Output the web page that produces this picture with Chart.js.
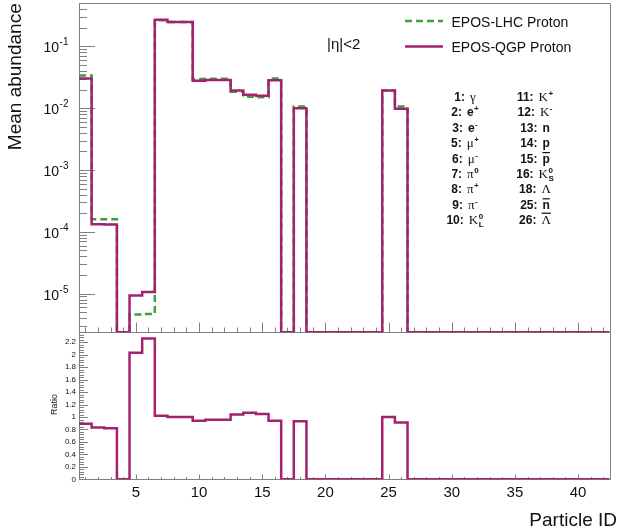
<!DOCTYPE html>
<html>
<head>
<meta charset="utf-8">
<script src="https://cdn.jsdelivr.net/npm/chart.js@4.4.1/dist/chart.umd.min.js"></script>
<style>
  html, body { margin: 0; padding: 0; background: #ffffff; }
  #wrap { position: relative; width: 618px; height: 530px; }
  #wrap canvas { position: absolute; left: 0; top: 0; }
</style>
</head>
<body>
<div id="wrap">
  <canvas id="abundance" width="618" height="530"></canvas>
  <canvas id="ratio" width="618" height="530"></canvas>
</div>
<script>
// ---- data -------------------------------------------------------------
// Particle ID bins, one unit wide and centred on the integer ID
const particleIds = [1, 2, 3, 4, 5, 6, 7, 8, 9, 10, 11, 12, 13, 14, 15, 16, 17, 18, 19, 20, 21,
                     22, 23, 24, 25, 26, 27, 28, 29, 30, 31, 32, 33, 34, 35, 36, 37, 38, 39, 40, 41, 42];

// mean abundance per event, |eta| < 2
const eposLhcProton = [0.0339, 1.6e-4, 1.6e-4, 0, 4.6e-6, 4.69e-6, 0.267, 0.250, 0.250, 0.0297,
                       0.0300, 0.0300, 0.0186, 0.0154, 0.0151, 0.0303, 0, 0.0107, 0, 0,
                       0, 0, 0, 0, 0.0194, 0.0107, 0, 0, 0, 0,
                       0, 0, 0, 0, 0, 0, 0, 0, 0, 0, 0, 0];
const eposQgpProton = [0.0302, 1.33e-4, 1.31e-4, 0, 9.35e-6, 1.06e-5, 0.272, 0.249, 0.249, 0.0279,
                       0.0286, 0.0286, 0.0194, 0.0165, 0.0159, 0.0285, 0, 0.0100, 0, 0,
                       0, 0, 0, 0, 0.0194, 0.0098, 0, 0, 0, 0,
                       0, 0, 0, 0, 0, 0, 0, 0, 0, 0, 0, 0];
// EPOS-QGP / EPOS-LHC
const ratioQgpLhc = [0.89, 0.83, 0.82, 0, 2.03, 2.26, 1.02, 1.00, 1.00, 0.94,
                     0.955, 0.955, 1.04, 1.07, 1.05, 0.94, 0, 0.93, 0, 0,
                     0, 0, 0, 0, 1.00, 0.91, 0, 0, 0, 0,
                     0, 0, 0, 0, 0, 0, 0, 0, 0, 0, 0, 0];

// ---- labels -----------------------------------------------------------
const seriesNames = ['EPOS-LHC Proton', 'EPOS-QGP Proton'];
const xTickLabels = [5, 10, 15, 20, 25, 30, 35, 40];
const logTickExponents = [-5, -4, -3, -2, -1];
const ratioTickLabels = ['0', '0.2', '0.4', '0.6', '0.8', '1', '1.2', '1.4', '1.6', '1.8', '2', '2.2'];
const xTitle = 'Particle ID';
const yTitle = 'Mean abundance';
const ratioTitle = 'Ratio';
const etaCut = '|\u03b7|<2';

// particle code table: [code, symbol, superscript, subscript, overline, serif symbol]
const codeTableLeft = [
  ['1:', '\u03b3', '', '', false, true],
  ['2:', 'e', '+', '', false, false],
  ['3:', 'e', '-', '', false, false],
  ['5:', '\u03bc', '+', '', false, true],
  ['6:', '\u03bc', '-', '', false, true],
  ['7:', '\u03c0', '0', '', false, true],
  ['8:', '\u03c0', '+', '', false, true],
  ['9:', '\u03c0', '-', '', false, true],
  ['10:', 'K', '0', 'L', false, true]
];
const codeTableRight = [
  ['11:', 'K', '+', '', false, true],
  ['12:', 'K', '-', '', false, true],
  ['13:', 'n', '', '', false, false],
  ['14:', 'p', '', '', false, false],
  ['15:', 'p', '', '', true, false],
  ['16:', 'K', '0', 'S', false, true],
  ['18:', '\u039b', '', '', false, true],
  ['25:', 'n', '', '', true, false],
  ['26:', '\u039b', '', '', true, true]
];

// ---- style ------------------------------------------------------------
const QGP_COLOR = '#a3216f';
const LHC_COLOR = '#3d9f3d';
const AXIS_COLOR = '#808080';
const TEXT_COLOR = '#111111';
const SANS = '"Liberation Sans", Arial, sans-serif';
const SERIF = '"Liberation Serif", "Times New Roman", serif';

const W = 618, H = 530;
const PLOT_LEFT = 79, PLOT_RIGHT = 609.7;
const TOP_PAD_TOP = 3.3, SPLIT_Y = 332.3, RATIO_BOTTOM = 479.3;
const X_MIN = 0.5, X_MAX = 42.5;
const LOG_MIN = 2.37e-6, LOG_MAX = 0.5;
const RATIO_MAX = 2.36;

// histogram outline: one point on each bin's low edge plus the final high edge
function histogramPoints(values, floor) {
  const pts = particleIds.map((id, i) => ({ x: id - 0.5, y: values[i] > 0 ? values[i] : floor }));
  const last = pts[pts.length - 1];
  pts.push({ x: particleIds[particleIds.length - 1] + 0.5, y: last.y });
  return pts;
}

function crisp(v) { return Math.round(v) + 0.5; }

function drawXTicks(ctx, scale, yAxis, majorLen, minorLen) {
  for (const id of particleIds) {
    const px = crisp(scale.getPixelForValue(id));
    const len = xTickLabels.includes(id) ? majorLen : minorLen;
    ctx.moveTo(px, yAxis);
    ctx.lineTo(px, yAxis - len);
  }
}

function drawCodeEntry(ctx, entry, cx, baseline) {
  const [code, sym, sup, sub, over, serif] = entry;
  const codeFont = 'bold 12px ' + SANS;
  const symFont = serif ? '13px ' + SERIF : 'bold 12px ' + SANS;
  const smallFont = 'bold 8px ' + SANS;
  ctx.font = codeFont; const wCode = ctx.measureText(code).width;
  ctx.font = symFont; const wSym = ctx.measureText(sym).width;
  ctx.font = smallFont;
  const wSmall = Math.max(sup ? ctx.measureText(sup).width : 0, sub ? ctx.measureText(sub).width : 0);
  const gap = 5;
  const total = wCode + gap + wSym + (wSmall ? wSmall + 0.5 : 0);
  let x = cx - total / 2;
  ctx.textAlign = 'left';
  ctx.textBaseline = 'alphabetic';
  ctx.font = codeFont; ctx.fillText(code, x, baseline);
  x += wCode + gap;
  ctx.font = symFont; ctx.fillText(sym, x, baseline);
  if (over) {
    ctx.save();
    ctx.strokeStyle = TEXT_COLOR; ctx.lineWidth = 1.2;
    ctx.beginPath();
    const oy = baseline - (sym === 'p' || sym === 'n' ? 10 : 11);
    ctx.moveTo(x, oy); ctx.lineTo(x + wSym, oy);
    ctx.stroke();
    ctx.restore();
  }
  x += wSym + 0.5;
  ctx.font = smallFont;
  if (sup) ctx.fillText(sup, x, baseline - 5);
  if (sub) ctx.fillText(sub, x, baseline + 2.5);
}

// ---- upper panel: axes, labels, legend, particle table ----------------
const abundanceDecor = {
  id: 'abundanceDecor',
  beforeDatasetsDraw(chart) {
    const { ctx, chartArea: a, scales: { x, y } } = chart;
    ctx.save();
    ctx.strokeStyle = AXIS_COLOR;
    ctx.lineWidth = 1;
    ctx.beginPath();
    ctx.rect(crisp(a.left), crisp(a.top), Math.round(a.right - a.left), Math.round(a.bottom - a.top));
    drawXTicks(ctx, x, crisp(a.bottom), 10, 5);
    const lo = Math.floor(Math.log10(y.min)), hi = Math.floor(Math.log10(y.max));
    for (let d = lo; d <= hi; d++) {
      for (let k = 1; k <= 9; k++) {
        const v = k * Math.pow(10, d);
        if (v < y.min || v > y.max) continue;
        const py = crisp(y.getPixelForValue(v));
        ctx.moveTo(a.left, py);
        ctx.lineTo(a.left + (k === 1 ? 16 : 8), py);
      }
    }
    ctx.stroke();

    ctx.fillStyle = TEXT_COLOR;
    ctx.textBaseline = 'alphabetic';
    // decade labels 10^n
    for (const e of logTickExponents) {
      const py = y.getPixelForValue(Math.pow(10, e));
      ctx.font = '10px ' + SANS;
      ctx.textAlign = 'right';
      const supTxt = String(e);
      const wSup = ctx.measureText(supTxt).width;
      ctx.fillText(supTxt, 68.5, py - 1);
      ctx.font = '14px ' + SANS;
      ctx.fillText('10', 68 - wSup, py + 6);
    }

    // y title
    ctx.save();
    ctx.font = '19px ' + SANS;
    ctx.translate(21, a.top);
    ctx.rotate(-Math.PI / 2);
    ctx.textAlign = 'right';
    ctx.fillText(yTitle, 0, 0);
    ctx.restore();

    // eta cut
    ctx.font = '15px ' + SANS;
    ctx.textAlign = 'left';
    ctx.fillText(etaCut, 327, 49);

    // legend
    const legendRows = [
      { name: seriesNames[0], color: LHC_COLOR, dash: [7, 4], y: 21 },
      { name: seriesNames[1], color: QGP_COLOR, dash: [], y: 46.5 }
    ];
    for (const r of legendRows) {
      ctx.save();
      ctx.strokeStyle = r.color;
      ctx.lineWidth = 2.5;
      ctx.setLineDash(r.dash);
      ctx.beginPath();
      ctx.moveTo(405, r.y);
      ctx.lineTo(443, r.y);
      ctx.stroke();
      ctx.restore();
      ctx.font = '14px ' + SANS;
      ctx.textAlign = 'left';
      ctx.fillText(r.name, 451.5, r.y + 5.5);
    }

    // particle code table
    codeTableLeft.forEach((e, i) => drawCodeEntry(ctx, e, 465, 101 + i * 15.4));
    codeTableRight.forEach((e, i) => drawCodeEntry(ctx, e, 535, 101 + i * 15.4));
    ctx.restore();
  }
};

// ---- lower panel: axes and labels -------------------------------------
const ratioDecor = {
  id: 'ratioDecor',
  beforeDatasetsDraw(chart) {
    const { ctx, chartArea: a, scales: { x, y } } = chart;
    ctx.save();
    ctx.strokeStyle = AXIS_COLOR;
    ctx.lineWidth = 1;
    ctx.beginPath();
    const l = crisp(a.left), r = crisp(a.right), b = crisp(a.bottom), t = crisp(a.top);
    ctx.moveTo(l, t); ctx.lineTo(l, b); ctx.lineTo(r, b); ctx.lineTo(r, t);
    drawXTicks(ctx, x, b, 5, 2.5);
    for (let i = 0; i * 0.04 <= y.max + 1e-9; i++) {
      const v = i * 0.04;
      const py = crisp(y.getPixelForValue(v));
      ctx.moveTo(a.left, py);
      ctx.lineTo(a.left + (i % 5 === 0 ? 9 : 5), py);
    }
    ctx.stroke();

    ctx.fillStyle = TEXT_COLOR;
    ctx.font = '8px ' + SANS;
    ctx.textAlign = 'right';
    ctx.textBaseline = 'middle';
    for (const lab of ratioTickLabels) {
      ctx.fillText(lab, 76, y.getPixelForValue(parseFloat(lab)));
    }

    ctx.textBaseline = 'alphabetic';
    ctx.textAlign = 'center';
    ctx.font = '15px ' + SANS;
    for (const v of xTickLabels) {
      ctx.fillText(String(v), x.getPixelForValue(v), 496.7);
    }

    ctx.font = '19px ' + SANS;
    ctx.textAlign = 'right';
    ctx.fillText(xTitle, 617, 525.5);

    ctx.save();
    ctx.font = '9px ' + SANS;
    ctx.translate(56.5, 404.5);
    ctx.rotate(-Math.PI / 2);
    ctx.textAlign = 'center';
    ctx.fillText(ratioTitle, 0, 0);
    ctx.restore();
    ctx.restore();
  }
};

const commonOptions = {
  responsive: false,
  animation: false,
  devicePixelRatio: 1,
  events: [],
  plugins: { legend: { display: false }, tooltip: { enabled: false } },
  elements: { point: { radius: 0 }, line: { tension: 0 } }
};

new Chart(document.getElementById('abundance'), {
  type: 'line',
  data: {
    datasets: [
      { label: seriesNames[1], data: histogramPoints(eposQgpProton, LOG_MIN),
        borderColor: QGP_COLOR, borderWidth: 2.5, stepped: true, fill: false },
      { label: seriesNames[0], data: histogramPoints(eposLhcProton, LOG_MIN),
        borderColor: LHC_COLOR, borderWidth: 2.5, borderDash: [7, 4], stepped: true, fill: false }
    ]
  },
  options: Object.assign({}, commonOptions, {
    layout: { padding: { left: PLOT_LEFT, right: W - PLOT_RIGHT, top: TOP_PAD_TOP, bottom: H - SPLIT_Y } },
    scales: {
      x: { type: 'linear', min: X_MIN, max: X_MAX, bounds: 'data', display: false },
      y: { type: 'logarithmic', min: LOG_MIN, max: LOG_MAX, bounds: 'data', display: false }
    }
  }),
  plugins: [abundanceDecor]
});

new Chart(document.getElementById('ratio'), {
  type: 'line',
  data: {
    datasets: [
      { label: 'EPOS-QGP / EPOS-LHC', data: histogramPoints(ratioQgpLhc, 0),
        borderColor: QGP_COLOR, borderWidth: 2.5, stepped: true, fill: false }
    ]
  },
  options: Object.assign({}, commonOptions, {
    layout: { padding: { left: PLOT_LEFT, right: W - PLOT_RIGHT, top: SPLIT_Y, bottom: H - RATIO_BOTTOM } },
    scales: {
      x: { type: 'linear', min: X_MIN, max: X_MAX, bounds: 'data', display: false },
      y: { type: 'linear', min: 0, max: RATIO_MAX, bounds: 'data', display: false }
    }
  }),
  plugins: [ratioDecor]
});
</script>
</body>
</html>
